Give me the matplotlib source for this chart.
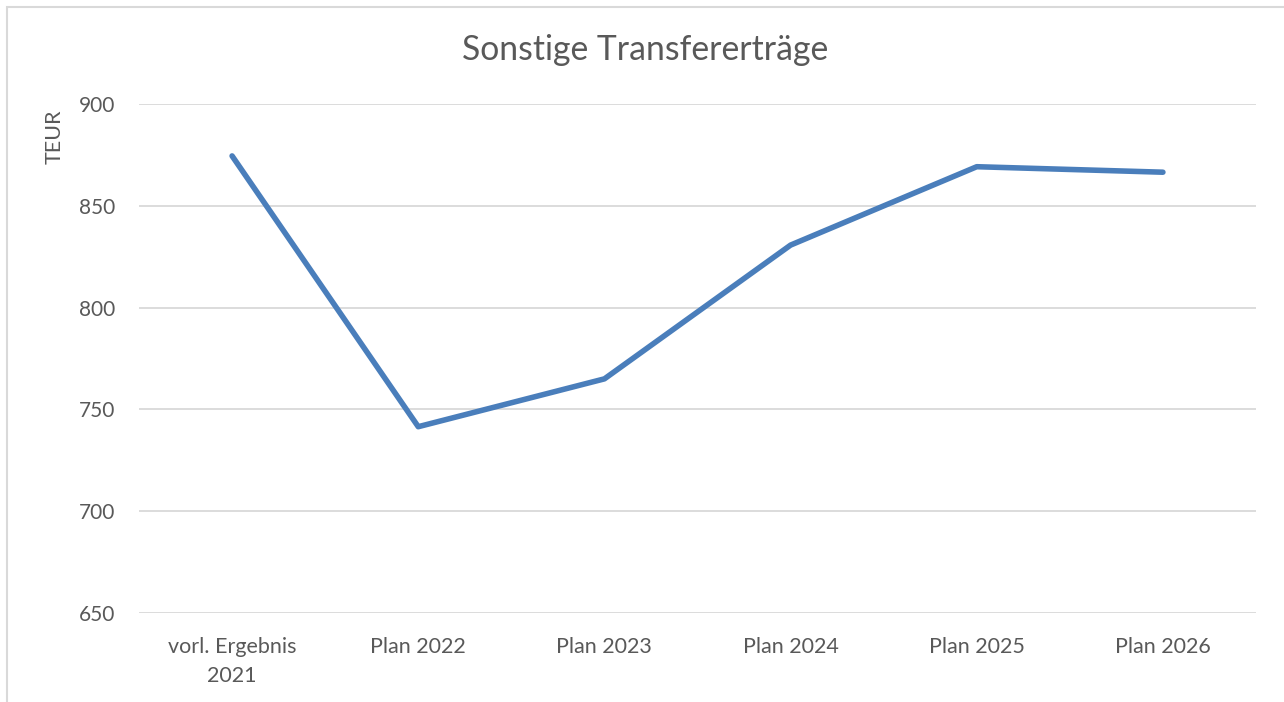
import matplotlib
matplotlib.use("Agg")
import matplotlib.pyplot as plt
from matplotlib.patches import Rectangle

categories = ["vorl. Ergebnis\n2021", "Plan 2022", "Plan 2023", "Plan 2024", "Plan 2025", "Plan 2026"]
values = [874.5, 741.5, 765.0, 830.7, 869.2, 866.5]
yticks = [650, 700, 750, 800, 850, 900]

W, H = 1284, 702
plt.rcParams['font.family'] = ['Lato', 'DejaVu Sans']
txt = '#595959'

fig = plt.figure(figsize=(W/100, H/100), dpi=100)
ax = fig.add_axes([139/W, 1-613/H, (1256-139)/W, (613-104)/H])

x = list(range(len(categories)))
ax.plot(x, values, color='#4A7EBB', lw=4.0, solid_capstyle='round', solid_joinstyle='round', zorder=3)
ax.set_xlim(-0.5, len(categories)-0.5)
ax.set_ylim(650, 900)
ax.set_yticks(yticks)
ax.set_yticklabels([str(v) for v in yticks], fontsize=15, color=txt)
ax.set_xticks(x)
ax.set_xticklabels(categories, fontsize=15.5, color=txt, linespacing=1.6)
ax.tick_params(axis='both', length=0)
ax.tick_params(axis='y', pad=17)
ax.tick_params(axis='x', pad=17)
ax.grid(axis='y', color='#D9D9D9', lw=1.3)
ax.set_axisbelow(True)
for s in ax.spines.values():
    s.set_visible(False)

fig.text(645/W, 1-50/H, "Sonstige Transfererträge", fontsize=24.3, color=txt, ha='center', va='center')
fig.text(55/W, 1-137/H, "TEUR", fontsize=15.5, color=txt, ha='center', va='center', rotation=90)

fig.patches.append(Rectangle((6.5/W, -0.1), 1.2, 1-6.5/H+0.1, transform=fig.transFigure,
                             fill=False, edgecolor='#D9D9D9', lw=1.5))

fig.savefig("out.png", dpi=100)
